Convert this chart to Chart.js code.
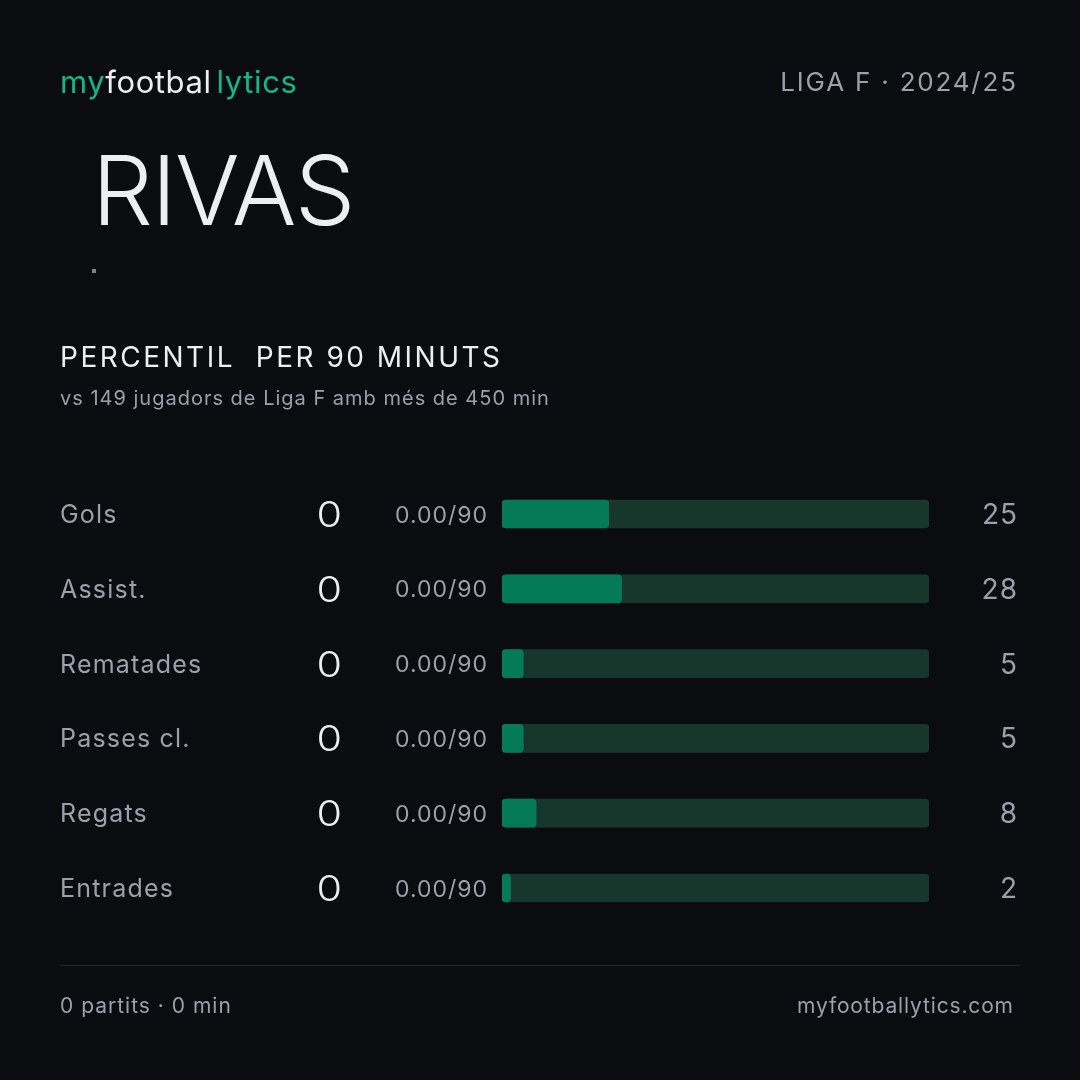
<!DOCTYPE html>
<html>
<head>
<meta charset="utf-8">
<script src="https://cdn.jsdelivr.net/npm/chart.js@4/dist/chart.umd.min.js"></script>
<style>
html,body{margin:0;padding:0;background:#0b0c10;}
#wrap{position:relative;width:1080px;height:1080px;}
canvas{display:block;}
</style>
</head>
<body>
<div id="wrap"><canvas id="c" width="1080" height="1080"></canvas></div>
<script>
// ---- data ----
const categories = ["Gols", "Assist.", "Rematades", "Passes cl.", "Regats", "Entrades"];
const totals = ["0", "0", "0", "0", "0", "0"];
const per90 = ["0.00/90", "0.00/90", "0.00/90", "0.00/90", "0.00/90", "0.00/90"];
const percentiles = [25, 28, 5, 5, 8, 2];
const trackValues = [100, 100, 100, 100, 100, 100];
const playerName = "RIVAS";
const leagueLabel = "LIGA F · 2024/25";
const sectionTitle = "PERCENTIL  PER 90 MINUTS";
const sectionSub = "vs 149 jugadors de Liga F amb més de 450 min";
const footerLeft = "0 partits · 0 min";
const footerRight = "myfootballytics.com";

const FONT = "Inter, 'Noto Sans', sans-serif";
const GREEN = "#10b981";
const WHITE = "#eceef2";
const GRAY = "#9aa1ac";

function font(w, s){ return w + " " + s + "px " + FONT; }

// draw text with letter spacing; right-aligned text compensates trailing spacing
function txt(ctx, s, x, y, align, ls){
  ctx.letterSpacing = ls + "px";
  ctx.textAlign = align;
  ctx.fillText(s, align === "right" ? x + ls : x, y);
}

const textPlugin = {
  id: "texts",
  beforeDraw(chart){
    const ctx = chart.ctx;
    ctx.save();
    ctx.fillStyle = "#0b0c10";
    ctx.fillRect(0,0,chart.width,chart.height);
    ctx.restore();
  },
  afterDraw(chart){
    const ctx = chart.ctx;
    const ys = chart.scales.y;
    ctx.save();
    ctx.textBaseline = "alphabetic";
    // logo
    ctx.font = font(400, 31);
    ctx.letterSpacing = "0.6px";
    ctx.textAlign = "left";
    let x = 60;
    ctx.fillStyle = GREEN; ctx.fillText("my", x, 93); x += ctx.measureText("my").width;
    ctx.fillStyle = WHITE; ctx.fillText("footbal", x, 93); x += ctx.measureText("footbal").width + 5;
    ctx.fillStyle = GREEN; ctx.fillText("lytics", x, 93);
    // league
    ctx.font = font(400, 26);
    ctx.fillStyle = GRAY;
    txt(ctx, leagueLabel, 1016, 91, "right", 1.8);
    // player name
    ctx.font = font(300, 96);
    ctx.fillStyle = WHITE;
    txt(ctx, playerName, 92, 225, "left", -1.5);
    // dot
    ctx.fillStyle = "#7b818c";
    ctx.fillRect(92, 269, 4, 4);
    // section title
    ctx.font = font(400, 28);
    ctx.fillStyle = WHITE;
    txt(ctx, sectionTitle, 60, 367, "left", 2.5);
    ctx.font = font(400, 20);
    ctx.fillStyle = GRAY;
    txt(ctx, sectionSub, 60, 405, "left", 1.0);
    // rows
    categories.forEach((c, i) => {
      const yc = ys.getPixelForValue(i);
      ctx.font = font(400, 25);
      ctx.fillStyle = GRAY;
      txt(ctx, c, 60, yc + 9, "left", 1.2);
      ctx.font = font(300, 36);
      ctx.fillStyle = WHITE;
      ctx.save();
      ctx.translate(342, yc + 13);
      ctx.scale(1.15, 1);
      txt(ctx, totals[i], 0, 0, "right", 0);
      ctx.restore();
      ctx.font = font(400, 23);
      ctx.fillStyle = GRAY;
      txt(ctx, per90[i], 487, yc + 8.5, "right", 1.0);
      ctx.font = font(400, 28);
      ctx.fillStyle = GRAY;
      txt(ctx, String(percentiles[i]), 1017, yc + 10, "right", 1.0);
    });
    // footer line
    ctx.strokeStyle = "#23262d";
    ctx.lineWidth = 1;
    ctx.beginPath(); ctx.moveTo(60, 965.5); ctx.lineTo(1020, 965.5); ctx.stroke();
    ctx.font = font(400, 21);
    ctx.fillStyle = GRAY;
    txt(ctx, footerLeft, 60, 1013, "left", 1.0);
    txt(ctx, footerRight, 1013, 1013, "right", 0.85);
    ctx.restore();
  }
};

new Chart(document.getElementById("c"), {
  type: "bar",
  data: {
    labels: categories,
    datasets: [
      { data: percentiles, backgroundColor: "#057a56", order: 1, grouped: false,
        barThickness: 28, borderRadius: 4, borderSkipped: false },
      { data: trackValues, backgroundColor: "#17362c", order: 2, grouped: false,
        barThickness: 28, borderRadius: 4, borderSkipped: false }
    ]
  },
  options: {
    indexAxis: "y",
    responsive: false,
    animation: false,
    devicePixelRatio: 1,
    layout: { padding: { left: 502, right: 151, top: 476.6, bottom: 154.6 } },
    plugins: { legend: { display: false }, tooltip: { enabled: false } },
    scales: {
      x: { display: false, min: 0, max: 100 },
      y: { display: false }
    }
  },
  plugins: [textPlugin]
});
</script>
</body>
</html>
